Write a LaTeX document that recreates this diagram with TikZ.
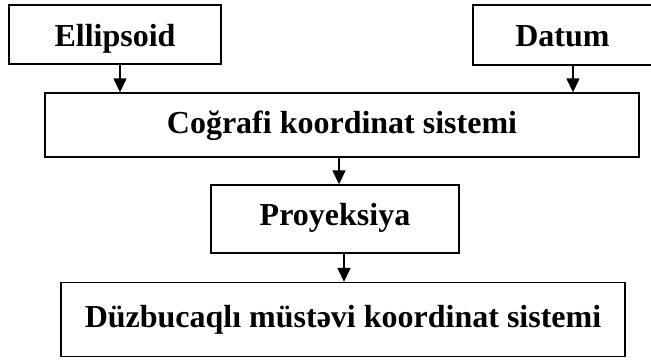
\documentclass[tikz,border=0pt]{standalone}
\usepackage{fontspec}
\setmainfont{Liberation Serif}
\usetikzlibrary{positioning, arrows.meta}

\begin{document}
\begin{tikzpicture}[
    x=1pt, y=-1pt,
    >={Triangle[length=14pt, width=13pt]},
    box/.style={draw=black, line width=1.4pt, inner sep=0pt, align=center,
      text height=21pt, text depth=4pt,
      font=\fontsize{32}{34}\selectfont\bfseries},
    feed/.style={draw=black, line width=1.4pt, ->},
  ]
  \useasboundingbox (0,0) rectangle (651,360);

  % ----- inputs -----
  \node[box, text height=27pt, text depth=3pt, minimum width=212pt, minimum height=59pt] (ell) at (115,34.5) {Ellipsoid};
  \node[box, text height=25pt, text depth=3pt, minimum width=179pt, minimum height=60pt] (datum) at (562.5,35) {Datum};

  % ----- geographic system -----
  \node[box, minimum width=594pt, minimum height=64pt] (geo) at (342,125) {Coğrafi koordinat sistemi};

  % ----- projection and plane system -----
  \node[box, text depth=9pt, minimum width=248pt, minimum height=68pt] (proj) at (335,219) {Proyeksiya};
  \node[box, text depth=6pt, minimum width=564pt, minimum height=74pt] (plane) at (343,319.5) {Düzbucaqlı müstəvi koordinat sistemi};

  % ----- wiring -----
  \draw[feed] ([xshift=5pt]ell.south) -- ([xshift=5pt]ell.south |- geo.north);
  \draw[feed] ([xshift=10.5pt]datum.south) -- ([xshift=10.5pt]datum.south |- geo.north);
  \draw[feed] ([xshift=-3pt]geo.south) -- ([xshift=-3pt]geo.south |- proj.north);
  \draw[feed] ([xshift=9pt]proj.south) -- ([xshift=9pt]proj.south |- plane.north);

\end{tikzpicture}
\end{document}
